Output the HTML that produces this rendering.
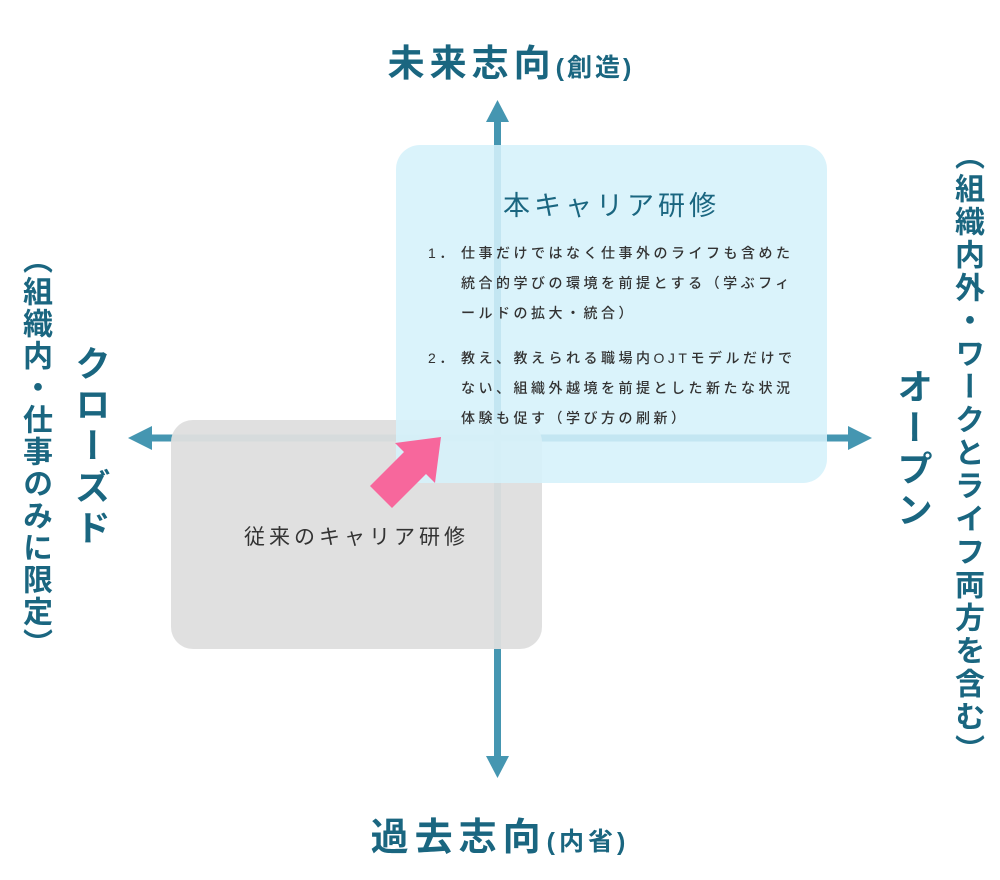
<!DOCTYPE html>
<html><head><meta charset="utf-8"><style>
body{margin:0;width:1000px;height:880px;background:#fff;position:relative;overflow:hidden;font-family:"Liberation Sans","Noto Sans CJK JP",sans-serif;color:#1a6680}
.a{position:absolute}
.v{writing-mode:vertical-rl;font-weight:bold;white-space:nowrap}
.list{font-size:14px;letter-spacing:3.5px;color:#333;line-height:30px;white-space:nowrap;font-weight:500}
</style></head><body>
<svg class="a" style="left:0;top:0" width="1000" height="880">
<g fill="#4596b1">
<rect x="494" y="118" width="7" height="640"/>
<polygon points="497.5,100 486,122 509,122"/>
<polygon points="497.5,778 486,756 509,756"/>
<rect x="148" y="434.5" width="706" height="7"/>
<polygon points="128,438 152,426 152,450"/>
<polygon points="872,438 848,426 848,450"/>
</g>
<rect x="171" y="420" width="371" height="229" rx="22" fill="#dedede" fill-opacity="0.95"/>
<rect x="396" y="145" width="431" height="338" rx="24" fill="#d5f1fb" fill-opacity="0.88"/>
<polygon points="370,486 404,452 395,443 441,437 435,483 426,474 392,508" fill="#f7679c"/>
</svg>
<div class="a" style="left:0;width:1000px;top:33px;text-align:center;font-weight:bold;padding-left:22px;box-sizing:border-box;white-space:nowrap"><span style="font-size:37px;letter-spacing:5px">未来志向</span><span style="font-size:25px;letter-spacing:3px">(創造)</span></div>
<div class="a" style="left:0;width:1000px;top:806px;text-align:center;font-weight:bold;white-space:nowrap"><span style="font-size:38px;letter-spacing:6px">過去志向</span><span style="font-size:25px;letter-spacing:4px">(内省)</span></div>
<div class="a" style="left:396px;width:431px;top:184px;text-align:center;font-size:27px;letter-spacing:4px;white-space:nowrap">本キャリア研修</div>
<div class="a list" style="left:428px;top:238px">1．</div>
<div class="a list" style="left:461px;top:238px">仕事だけではなく仕事外のライフも含めた<br>統合的学びの環境を前提とする（学ぶフィ<br>ールドの拡大・統合）</div>
<div class="a list" style="left:428px;top:343px">2．</div>
<div class="a list" style="left:461px;top:343px">教え、教えられる職場内OJTモデルだけで<br>ない、組織外越境を前提とした新たな状況<br>体験も促す（学び方の刷新）</div>
<div class="a" style="left:171px;width:371px;top:521px;text-align:center;font-size:21px;letter-spacing:4px;color:#333;white-space:nowrap">従来のキャリア研修</div>
<div class="a v" style="left:16px;top:244px;font-size:30px;line-height:36px;letter-spacing:2px">（組織内・仕事のみに限定）</div>
<div class="a v" style="left:70px;top:345px;font-size:36px;line-height:40px;letter-spacing:5px">クローズド</div>
<div class="a v" style="left:892px;top:368px;font-size:36px;line-height:40px;letter-spacing:5px">オープン</div>
<div class="a v" style="left:948px;top:140px;font-size:30px;line-height:36px;letter-spacing:3px">（組織内外・ワークとライフ両方を含む）</div>
</body></html>
